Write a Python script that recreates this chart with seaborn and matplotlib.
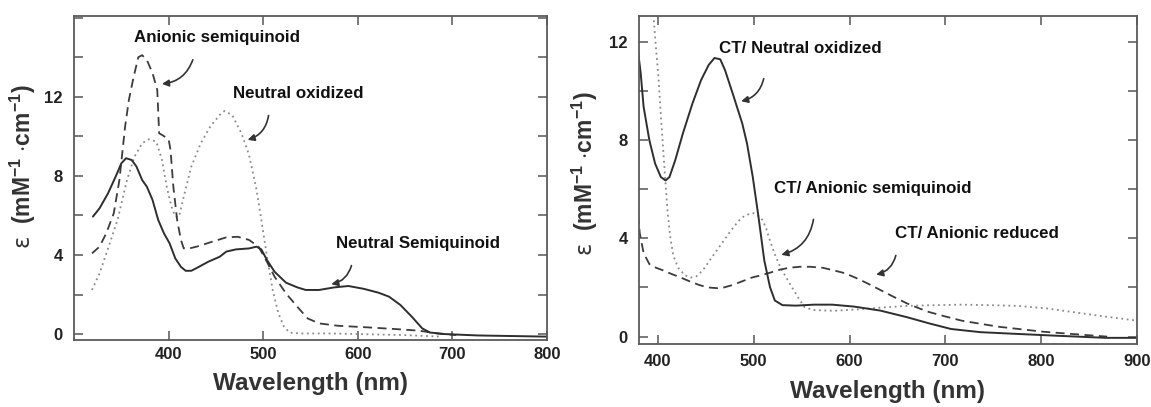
import numpy as np
import pandas as pd
import matplotlib
matplotlib.use("Agg")
import matplotlib.pyplot as plt
import seaborn as sns
from matplotlib.ticker import MultipleLocator

# ---------- panel A: free flavin species ----------
a_semi_x = [319, 327, 334, 342, 348, 354, 358, 363, 368, 372, 377, 383, 388, 390, 393, 400,
            402, 405, 409, 413, 416, 422, 432, 446, 461, 473, 485, 495, 502, 512, 524, 536,
            547, 559, 579, 610, 641, 665, 684, 704]
a_semi_y = [4.08, 4.42, 5.09, 6.1, 7.79, 10.49, 11.84, 13.0, 14.0, 14.1, 13.86, 13.19, 12.34,
            10.15, 10.07, 9.85, 9.31, 7.45, 5.77, 4.76, 4.33, 4.33, 4.45, 4.67, 4.89, 4.92,
            4.76, 4.42, 3.83, 2.9, 2.06, 1.38, 0.79, 0.54, 0.42, 0.34, 0.25, 0.17, 0.03, -0.05]

n_oxi_x = [319, 327, 336, 346, 356, 364, 372, 379, 387, 393, 398, 403, 407, 411, 416, 424,
           434, 444, 454, 459, 467, 477, 485, 493, 498, 504, 510, 516, 522, 528, 540, 571,
           649, 688]
n_oxi_y = [2.23, 3.07, 4.33, 5.77, 7.79, 8.97, 9.65, 9.85, 9.73, 8.8, 7.45, 6.44, 5.94, 5.94,
           6.95, 8.47, 9.65, 10.49, 11.08, 11.28, 11.08, 10.15, 9.06, 7.28, 5.77, 3.91, 2.23,
           1.05, 0.37, 0.07, 0.03, 0.03, -0.05, -0.13]

n_semi_x = [320, 327, 336, 344, 350, 355, 361, 366, 372, 377, 383, 389, 395, 401, 407, 413,
            418, 424, 432, 442, 454, 461, 471, 485, 493, 498, 504, 512, 524, 536, 545, 559,
            575, 590, 606, 622, 633, 645, 657, 668, 676, 692, 727, 801]
n_semi_y = [5.94, 6.36, 7.12, 7.96, 8.63, 8.89, 8.8, 8.47, 7.79, 7.45, 6.78, 5.77, 5.1, 4.59,
            3.83, 3.4, 3.2, 3.2, 3.4, 3.66, 3.91, 4.17, 4.28, 4.33, 4.42, 4.28, 3.74, 3.15,
            2.6, 2.36, 2.23, 2.23, 2.36, 2.43, 2.29, 2.09, 1.89, 1.47, 0.88, 0.29, 0.08, 0.0,
            -0.07, -0.13]

# ---------- panel B: charge-transfer complexes ----------
ct_oxi_x = [378, 382, 385, 391, 397, 403, 408, 412, 418, 426, 436, 445, 453, 459, 465, 470,
            478, 488, 493, 499, 505, 511, 517, 522, 530, 544, 563, 582, 605, 632, 660, 683,
            706, 737, 775, 814, 868, 900]
ct_oxi_y = [12.0, 10.7, 9.35, 7.99, 7.04, 6.49, 6.35, 6.49, 7.17, 8.26, 9.48, 10.43, 11.05,
            11.33, 11.28, 10.84, 9.89, 8.67, 7.85, 6.49, 4.86, 3.1, 2.01, 1.47, 1.28, 1.26,
            1.3, 1.3, 1.22, 1.06, 0.79, 0.54, 0.31, 0.18, 0.11, 0.04, -0.05, -0.05]

ct_semi_x = [394.5, 395.5, 398, 400.5, 403, 405, 407.5, 410, 413, 416, 421, 428, 434, 440,
             447, 454, 465, 475, 484, 490, 496, 500, 505, 509, 513, 517, 522, 528, 534, 540,
             547, 553, 562, 583, 606, 633, 660, 690, 717, 746, 775, 805, 833, 866, 900]
ct_semi_y = [13.3, 12.94, 11.7, 10.57, 9.0, 7.86, 6.45, 5.1, 4.0, 3.3, 2.8, 2.5, 2.4, 2.45,
             2.7, 3.1, 3.7, 4.25, 4.7, 4.9, 5.0, 5.02, 4.9, 4.75, 4.4, 3.9, 3.35, 2.8, 2.4,
             2.0, 1.55, 1.2, 1.08, 1.05, 1.1, 1.18, 1.25, 1.28, 1.3, 1.28, 1.25, 1.15, 1.0,
             0.82, 0.65]

ct_red_x = [378, 381, 385, 391, 398, 405, 414, 424, 433, 443, 452, 462, 469, 478, 488, 498,
            508, 517, 527, 537, 548, 559, 572, 583, 595, 606, 619, 632, 646, 660, 672, 683,
            700, 717, 737, 756, 779, 802, 835, 869]
ct_red_y = [5.55, 4.2, 3.4, 2.95, 2.8, 2.7, 2.55, 2.4, 2.25, 2.1, 2.0, 1.97, 2.0, 2.1, 2.25,
            2.4, 2.5, 2.6, 2.72, 2.8, 2.84, 2.84, 2.8, 2.7, 2.58, 2.4, 2.16, 1.9, 1.62, 1.35,
            1.16, 1.0, 0.82, 0.65, 0.52, 0.4, 0.3, 0.2, 0.1, 0.0]

# labels: (text, text x, text y, arrow start x, y, arrow end x, y)
labels_a = [("Anionic semiquinoid", 451, 15.0, 426.5, 14.0, 390, 12.64),
            ("Neutral oxidized", 536.6, 12.17, 506, 11.19, 480.7, 9.78),
            ("Neutral Semiquinoid", 664, 4.6, 594, 3.6, 569, 2.5)]
labels_b = [("CT/ Neutral oxidized", 549, 11.72, 511, 10.6, 484, 9.55),
            ("CT/ Anionic semiquinoid", 624, 6.03, 562.8, 4.88, 526, 3.3),
            ("CT/ Anionic reduced", 733, 4.2, 649, 3.41, 625, 2.5)]

SOLID = "#2e2e2e"
DASH = "#3c3c3c"
DOT = "#8a8a8a"

sns.set_style("ticks")
plt.rcParams['font.family'] = ['Liberation Sans', 'DejaVu Sans']
plt.rcParams['mathtext.fontset'] = 'custom'
plt.rcParams['mathtext.rm'] = 'Liberation Sans:bold'
plt.rcParams['mathtext.bf'] = 'Liberation Sans:bold'
plt.rcParams['mathtext.it'] = 'DejaVu Sans'

fig = plt.figure(figsize=(11.51, 4.07), dpi=100)
ax1 = fig.add_axes([0.0643, 0.1646, 0.411, 0.797])
ax2 = fig.add_axes([0.555, 0.1548, 0.4327, 0.8066])


def curve(ax, xs, ys, color, style, lw):
    df = pd.DataFrame({"x": xs, "y": ys})
    sns.lineplot(data=df, x="x", y="y", ax=ax, color=color, lw=lw,
                 linestyle=style, sort=False, estimator=None)


curve(ax1, n_oxi_x, n_oxi_y, DOT, (0, (1, 2)), 1.3)
curve(ax1, a_semi_x, a_semi_y, DASH, (0, (5, 3)), 1.3)
curve(ax1, n_semi_x, n_semi_y, SOLID, "-", 1.4)

curve(ax2, ct_semi_x, ct_semi_y, DOT, (0, (1, 2)), 1.3)
curve(ax2, ct_red_x, ct_red_y, DASH, (0, (5, 3)), 1.3)
curve(ax2, ct_oxi_x, ct_oxi_y, SOLID, "-", 1.4)

ax1.set_xlim(300, 800)
ax1.set_ylim(-0.3, 16.1)
ax2.set_xlim(380, 900)
ax2.set_ylim(-0.3, 13.05)

ylab = r'$\varepsilon$  (mM$^{-1}$ $\cdot$cm$^{-1}$)'
for ax, labels in ((ax1, labels_a), (ax2, labels_b)):
    ax.xaxis.set_major_locator(MultipleLocator(100))
    ax.yaxis.set_major_locator(MultipleLocator(4))
    ax.yaxis.set_minor_locator(MultipleLocator(2))
    ax.tick_params(which='both', direction='in', top=True, right=True,
                   color='#555555', width=1.1, length=6.5)
    ax.tick_params(axis='y', which='major', pad=8)
    ax.tick_params(which='major', labelsize=12, labelcolor='#222222')
    ax.tick_params(axis='x', which='minor', bottom=False, top=False)
    for sp in ax.spines.values():
        sp.set_color('#5a5a5a')
        sp.set_linewidth(1.3)
    ax.set_ylabel(ylab, fontsize=16.5, fontweight='bold', color='#333333')
    for txt, tx, ty, sx, sy, ex, ey in labels:
        ax.text(tx, ty, txt, ha='center', va='center', fontsize=12.2,
                fontweight='bold', color='#111111')
        ax.annotate('', xy=(ex, ey), xytext=(sx, sy),
                    arrowprops=dict(arrowstyle='-|>', color='#333333', lw=1.2,
                                    connectionstyle='arc3,rad=-0.35',
                                    mutation_scale=10))

ax1.tick_params(axis='x', which='major', pad=5)
ax2.tick_params(axis='x', which='major', pad=7)
ax1.set_xlabel('Wavelength (nm)', fontsize=17.5, fontweight='bold',
               color='#333333', labelpad=7)
ax2.set_xlabel('Wavelength (nm)', fontsize=17.5, fontweight='bold',
               color='#333333', labelpad=8)
ax1.set_xticks([400, 500, 600, 700, 800])
ax1.set_yticks([0, 4, 8, 12])
ax2.set_xticks([400, 500, 600, 700, 800, 900])
ax2.set_yticks([0, 4, 8, 12])
ax1.yaxis.set_label_coords(-0.076, 0.534)
ax2.yaxis.set_label_coords(-0.078, 0.52)
for ax in (ax1, ax2):
    for lab in ax.get_xticklabels() + ax.get_yticklabels():
        lab.set_fontweight('bold')

fig.savefig("out.png", dpi=100)
